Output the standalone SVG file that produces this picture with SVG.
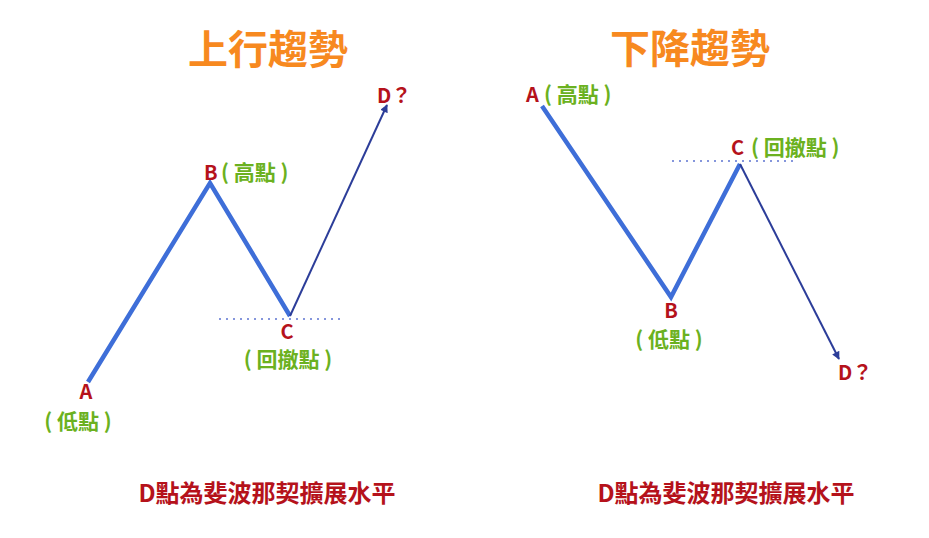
<svg xmlns="http://www.w3.org/2000/svg" width="929" height="538" viewBox="0 0 929 538">
<defs>
<marker id="arr" viewBox="0 0 10 10" refX="9" refY="5" markerWidth="10" markerHeight="8" markerUnits="userSpaceOnUse" orient="auto">
<path d="M0,0 L10,5 L0,10 z" fill="#2C3D99"/>
</marker>
<style>
text{font-family:"Noto Sans CJK TC","Noto Sans CJK SC",sans-serif;font-weight:700}
.title{font-size:40px;fill:#F7891F}
.red{fill:#B5121B;font-size:20px}
.grn{fill:#6BB120;font-size:21px}
.foot{font-size:24px;fill:#B5121B}
.thick{fill:none;stroke:#3E6ED8;stroke-width:4.5;stroke-linejoin:miter;stroke-linecap:butt}
.thin{fill:none;stroke:#2C3D99;stroke-width:2}
.dot{fill:none;stroke:#8596DC;stroke-width:2;stroke-dasharray:2 5}
</style>
</defs>
<rect width="929" height="538" fill="#FFFFFF"/>
<text class="title" x="268" y="64" text-anchor="middle">上行趨勢</text>
<text class="title" x="690" y="63" text-anchor="middle">下降趨勢</text>
<g id="connectors">
<polyline class="thick" points="88,382 210,183 290,316"/>
<line class="thin" x1="290" y1="316" x2="387" y2="105" marker-end="url(#arr)"/>
<line class="dot" x1="219" y1="319" x2="345" y2="319"/>
<polyline class="thick" points="542,106 671,297 740,164"/>
<line class="thin" x1="740" y1="164" x2="839" y2="359" marker-end="url(#arr)"/>
<line class="dot" x1="672" y1="161" x2="798" y2="161"/>
</g>
<g id="up-A"><text class="red" x="86" y="399" text-anchor="middle">A</text><text class="grn" x="78" y="429" text-anchor="middle" xml:space="preserve">( 低點 )</text></g>
<g id="up-B"><text class="red" x="204" y="180">B</text><text class="grn" x="221" y="180" xml:space="preserve">( 高點 )</text></g>
<g id="up-C"><text class="red" x="287" y="339" text-anchor="middle">C</text><text class="grn" x="288" y="367" text-anchor="middle" xml:space="preserve">( 回撤點 )</text></g>
<g id="up-D"><text class="red" x="377" y="103">D？</text></g>
<text class="foot" x="267" y="502" text-anchor="middle">D點為斐波那契擴展水平</text>
<g id="down-A"><text class="red" x="526" y="102">A</text><text class="grn" x="544" y="102" xml:space="preserve">( 高點 )</text></g>
<g id="down-B"><text class="red" x="671" y="318" text-anchor="middle">B</text><text class="grn" x="669" y="347" text-anchor="middle" xml:space="preserve">( 低點 )</text></g>
<g id="down-C"><text class="red" x="731" y="155">C</text><text class="grn" x="751" y="155" xml:space="preserve">( 回撤點 )</text></g>
<g id="down-D"><text class="red" x="838" y="380">D？</text></g>
<text class="foot" x="726" y="502" text-anchor="middle">D點為斐波那契擴展水平</text>
</svg>
